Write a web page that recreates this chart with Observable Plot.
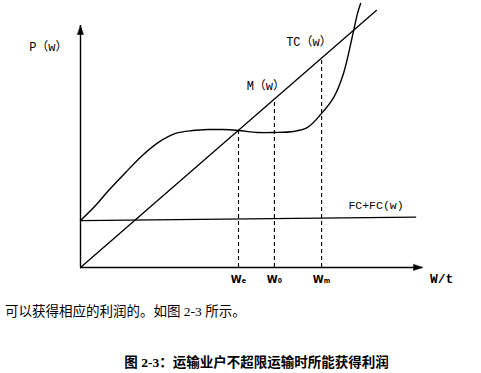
<!DOCTYPE html>
<html><head><meta charset="utf-8">
<script src="https://cdn.jsdelivr.net/npm/d3@7"></script>
<script src="https://cdn.jsdelivr.net/npm/@observablehq/plot@0.6"></script>
<style>
body{margin:0;background:#fff;width:481px;height:373px;overflow:hidden}
#chart svg{display:block}
.note{font-family:"Liberation Serif","Noto Sans CJK SC";font-size:13.5px;line-height:18px;margin:7px 0 0 5px;color:#000}
.cap{font-family:"Liberation Serif","Noto Sans CJK SC";font-weight:bold;font-size:13.5px;line-height:18px;margin:33px 0 0 0;padding-left:32px;text-align:center;color:#000}
</style></head>
<body>
<div id="chart"></div>
<div class="note">可以获得相应的利润的。如图 2-3 所示。</div>
<div class="cap">图 2-3：运输业户不超限运输时所能获得利润</div>
<script>
// Total cost curve TC(w)
const tcW = [0, 4.4, 8.2, 13.2, 18.1, 22.8, 27.8, 32.8, 37.4, 41.5, 46.2, 51.8, 56.4, 62.3, 66.4, 70.2, 74.0, 76.9, 79.8, 81.0, 81.9];
const tcP = [19.4, 25.6, 31.8, 39.3, 46.3, 51.7, 55.4, 56.6, 57.0, 57.0, 56.6, 55.8, 55.8, 56.2, 57.9, 63.2, 70.2, 80.2, 97.5, 105.0, 109.1];
// Revenue line M(w)
const mW = [0, 86.5];
const mP = [0, 106.2];
// Fixed cost line FC+FC(w)
const fcW = [0, 98];
const fcP = [19.4, 20.8];
// Marked quantities
const markLabels = ["W\u2091", "W\u2080", "W\u2098"];
const markW = [46.2, 56.7, 70.5];
const markP = [56.7, 69.6, 86.6];
// Text labels
const yLabel = "P（w）";
const xLabel = "W/t";
const tcLabel = "TC（w）";
const mLabel = "M（w）";
const fcLabel = "FC+FC(w)";

const tc = tcW.map((w, i) => ({w, p: tcP[i]}));
const m = mW.map((w, i) => ({w, p: mP[i]}));
const fc = fcW.map((w, i) => ({w, p: fcP[i]}));
const marks = markW.map((w, i) => ({w, p: markP[i], label: markLabels[i]}));

const font = "Liberation Mono, Noto Sans CJK SC";
const head = {draw(ctx, l, r) { ctx.moveTo(0, -l); ctx.lineTo(r, 0); ctx.lineTo(-r, 0); ctx.closePath(); }};

const chart = Plot.plot({
  width: 481, height: 296,
  marginLeft: 80, marginRight: 59, marginTop: 25, marginBottom: 29,
  x: {domain: [0, 100], axis: null},
  y: {domain: [0, 100], axis: null},
  style: {background: "white", color: "black"},
  marks: [
    Plot.ruleY([0], {stroke: "black", strokeWidth: 1.4}),
    Plot.ruleX([0], {stroke: "black", strokeWidth: 1.4}),
    Plot.vector([0], {x: 100, y: 0, rotate: 90, length: 9, r: 3, anchor: "end", shape: head, fill: "black", stroke: "black", strokeWidth: 0.5}),
    Plot.vector([0], {x: 0, y: 100, rotate: 0, length: 9, r: 3, anchor: "end", shape: head, fill: "black", stroke: "black", strokeWidth: 0.5}),
    Plot.line(fc, {x: "w", y: "p", stroke: "black", strokeWidth: 1.3}),
    Plot.line(m, {x: "w", y: "p", stroke: "black", strokeWidth: 1.3}),
    Plot.line(tc, {x: "w", y: "p", curve: "catmull-rom", stroke: "black", strokeWidth: 1.4}),
    Plot.ruleX(marks, {x: "w", y1: 0, y2: "p", stroke: "black", strokeWidth: 1.1, strokeDasharray: "4,3"}),
    Plot.text(marks, {x: "w", y: 0, dy: 12, text: "label", fontFamily: "DejaVu Sans Condensed, Liberation Mono", fontWeight: "bold", fontSize: 11}),
    Plot.text([yLabel], {x: -9.4, y: 90.9, text: d => d, fontFamily: font, fontSize: 12}),
    Plot.text([xLabel], {x: 105.6, y: -4.5, text: d => d, fontFamily: font, fontSize: 13, fontWeight: "bold"}),
    Plot.text([tcLabel], {x: 66.8, y: 93.0, text: d => d, fontFamily: font, fontSize: 12}),
    Plot.text([mLabel], {x: 54.2, y: 74.8, text: d => d, fontFamily: font, fontSize: 12}),
    Plot.text([fcLabel], {x: 86.4, y: 25.6, text: d => d, fontFamily: font, fontSize: 11.5})
  ]
});
document.getElementById("chart").append(chart);
</script>
</body></html>
